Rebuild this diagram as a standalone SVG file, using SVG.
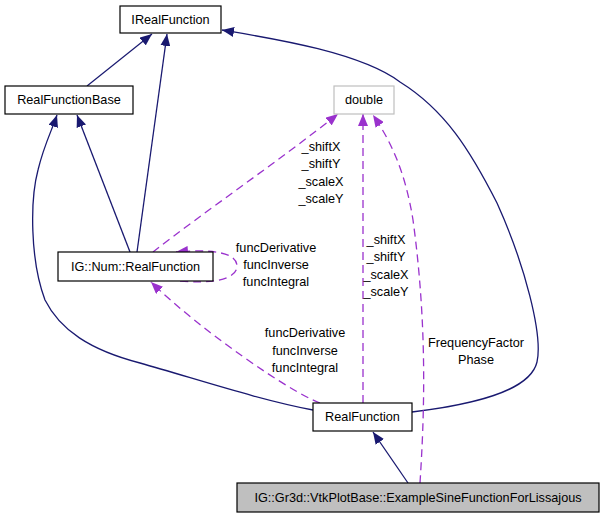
<svg xmlns="http://www.w3.org/2000/svg" width="604" height="517" viewBox="0 0 604 517">
<style>
.box{fill:#fff;stroke:#000;stroke-width:1.2}
.t{font-family:"Liberation Sans",Arial,sans-serif;font-size:12.7px;fill:#000;text-anchor:middle}
.e{fill:none;stroke:#191970;stroke-width:1.3}
.d{fill:none;stroke:#9a32cd;stroke-width:1.3;stroke-dasharray:8,5}
</style>
<defs>
<marker id="an" markerUnits="userSpaceOnUse" viewBox="0 0 12 10" refX="12" refY="5" markerWidth="12" markerHeight="10" orient="auto"><path d="M0,0 L12,5 L0,10 z" fill="#191970"/></marker>
<marker id="ap" markerUnits="userSpaceOnUse" viewBox="0 0 12 10" refX="12" refY="5" markerWidth="12" markerHeight="10" orient="auto"><path d="M0,0 L12,5 L0,10 z" fill="#9a32cd"/></marker>
</defs>
<g id="connectors">
<path class="e" d="M87,86 L152,34" marker-end="url(#an)"/>
<path class="e" d="M137,252 L167,34" marker-end="url(#an)"/>
<path class="e" d="M130,252 L77,115" marker-end="url(#an)"/>
<path class="e" d="M313,410 C260,400 200,380 140,363 C90,350 60,330 45,300 C30,260 30,200 38,170 C44,145 52,130 57,115" marker-end="url(#an)"/>
<path class="e" d="M412,412 C470,405 530,392 537,362 C543,335 525,265 497,203 C470,150 445,110 400,82 C360,52 270,38 222,30" marker-end="url(#an)"/>
<path class="e" d="M408,483 L373,432" marker-end="url(#an)"/>
<path class="d" d="M153,252 C200,215 280,160 338,114" marker-end="url(#ap)"/>
<path class="d" d="M363,403 L363,114" marker-end="url(#ap)"/>
<path class="d" d="M420,483 C424,420 428,330 413,220 C405,170 390,140 373,115" marker-end="url(#ap)"/>
<path class="d" d="M320,403 C290,392 200,330 151,282" marker-end="url(#ap)"/>
<path class="d" d="M180,281 C210,284 237,280 237,266 C237,252 210,249 176,252" marker-end="url(#ap)"/>
</g>
<g id="labels">
<text class="t" x="321" y="151">_shiftX</text>
<text class="t" x="321" y="168">_shiftY</text>
<text class="t" x="321" y="186">_scaleX</text>
<text class="t" x="321" y="203">_scaleY</text>
<text class="t" x="386" y="244">_shiftX</text>
<text class="t" x="386" y="261">_shiftY</text>
<text class="t" x="386" y="279">_scaleX</text>
<text class="t" x="386" y="296">_scaleY</text>
<text class="t" x="476" y="347">FrequencyFactor</text>
<text class="t" x="476" y="364">Phase</text>
<text class="t" x="305" y="337">funcDerivative</text>
<text class="t" x="305" y="355">funcInverse</text>
<text class="t" x="305" y="372">funcIntegral</text>
<text class="t" x="276" y="252">funcDerivative</text>
<text class="t" x="276" y="269">funcInverse</text>
<text class="t" x="276" y="286">funcIntegral</text>
</g>
<g id="IRealFunction"><rect class="box" x="120" y="6" width="101" height="27"/><text class="t" x="170.5" y="24">IRealFunction</text></g>
<g id="RealFunctionBase"><rect class="box" x="5" y="86" width="128" height="28"/><text class="t" x="69" y="104">RealFunctionBase</text></g>
<g id="double"><rect x="334" y="86" width="60" height="28" fill="#fff" stroke="#bfbfbf" stroke-width="1.2"/><text class="t" x="364" y="104">double</text></g>
<g id="NumRealFunction"><rect class="box" x="58" y="252" width="155" height="29"/><text class="t" x="135.5" y="270.5">IG::Num::RealFunction</text></g>
<g id="RealFunction"><rect class="box" x="313" y="403" width="99" height="28"/><text class="t" x="362.5" y="421">RealFunction</text></g>
<g id="ExampleSine"><rect x="237" y="483" width="362" height="29" fill="#bfbfbf" stroke="#000" stroke-width="1.2"/><text class="t" x="418" y="501.5">IG::Gr3d::VtkPlotBase::ExampleSineFunctionForLissajous</text></g>
</svg>
